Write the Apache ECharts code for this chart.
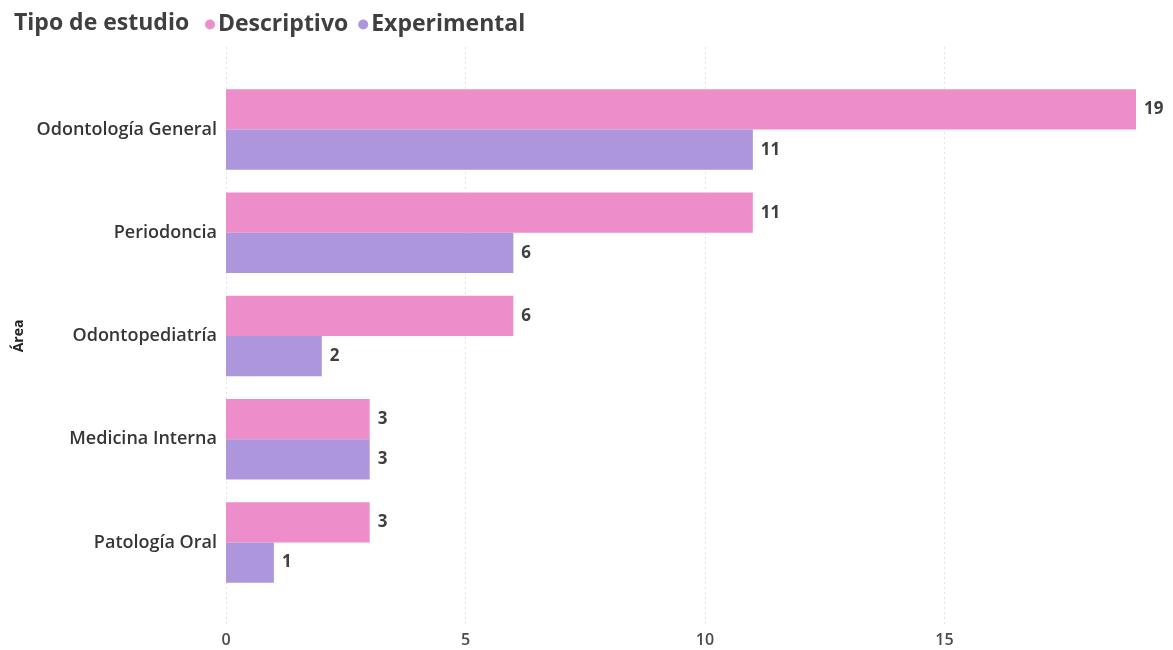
<!DOCTYPE html>
<html><head><meta charset="utf-8">
<script src="https://cdn.jsdelivr.net/npm/echarts@6/dist/echarts.min.js"></script>
<style>html,body{margin:0;padding:0;background:#fff}#c{width:1173px;height:650px}</style>
</head><body><div id="c"></div>
<script>
const categories = ['Odontología General','Periodoncia','Odontopediatría','Medicina Interna','Patología Oral'];
const descriptivo = [19, 11, 6, 3, 3];
const experimental = [11, 6, 2, 3, 1];
const xTicks = [0, 5, 10, 15];
const legendTitle = 'Tipo de estudio';
const seriesNames = ['Descriptivo','Experimental'];
const axisName = 'Área';

const FONT = '"Open Sans", "Noto Sans", sans-serif';
const chart = echarts.init(document.getElementById('c'));
const labelStyle = {show: true, position: 'right', distance: 8, fontFamily: FONT, fontWeight: 700, fontSize: 17, color: '#3f3f3f'};
chart.setOption({
  animation: false,
  title: {text: legendTitle, left: 9, top: 7, textStyle: {fontFamily: FONT, fontWeight: 700, fontSize: 23, color: '#3f3f3f'}},
  legend: {
    left: 200, top: 8, icon: 'circle', itemWidth: 10, itemHeight: 10, itemGap: 10,
    textStyle: {fontFamily: FONT, fontWeight: 700, fontSize: 23, color: '#3f3f3f', padding: [0,0,0,-2]},
    data: seriesNames
  },
  grid: [
    {left: 226, right: 37, top: 47, bottom: 23},
    {left: 226, right: 37, top: 78, bottom: 56}
  ],
  xAxis: [
    {gridIndex: 0, type: 'value', min: 0, max: 19, interval: 5,
     axisLine: {show: false}, axisTick: {show: false},
     splitLine: {show: true, showMaxLine: false, lineStyle: {color: '#e3e3e3', type: [2, 3], width: 1}},
     axisLabel: {margin: 5, showMaxLabel: false, fontFamily: FONT, fontWeight: 600, fontSize: 16, color: '#4a4a4a',
       formatter: v => xTicks.includes(v) ? String(v) : ''}},
    {gridIndex: 1, type: 'value', min: 0, max: 19, show: false}
  ],
  yAxis: [
    {gridIndex: 0, type: 'category', data: [''], show: false},
    {gridIndex: 1, type: 'category', data: categories, inverse: true,
     axisLine: {show: false}, axisTick: {show: false},
     axisLabel: {margin: 9, fontFamily: FONT, fontWeight: 600, fontSize: 18, color: '#363636'},
     name: axisName, nameLocation: 'middle', nameRotate: 90, nameGap: 200,
     nameTextStyle: {fontFamily: FONT, fontWeight: 700, fontSize: 14, color: '#252423'}}
  ],
  series: [
    {name: seriesNames[0], type: 'bar', xAxisIndex: 1, yAxisIndex: 1, data: descriptivo,
     barGap: '0%', barCategoryGap: '22%', itemStyle: {color: '#ED8ECB'}, label: labelStyle},
    {name: seriesNames[1], type: 'bar', xAxisIndex: 1, yAxisIndex: 1, data: experimental,
     barGap: '0%', barCategoryGap: '22%', itemStyle: {color: '#AD96DC'}, label: labelStyle}
  ],
  color: ['#ED8ECB', '#AD96DC']
});
</script></body></html>
